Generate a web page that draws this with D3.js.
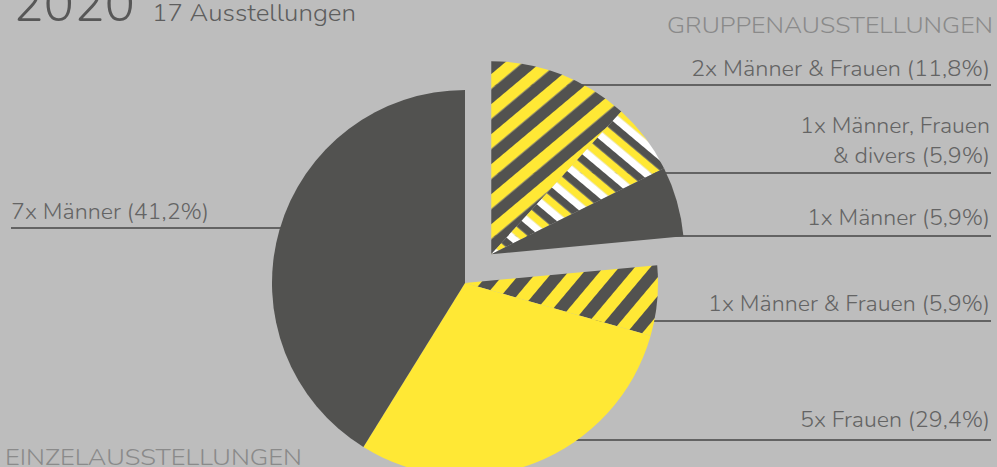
<!DOCTYPE html>
<html><head><meta charset="utf-8">
<script src="https://cdn.jsdelivr.net/npm/d3@7"></script>
<style>
html,body{margin:0;padding:0;background:#bdbdbd;}
svg{display:block;}
text{font-family:Nunito, Lato, "Open Sans", sans-serif;font-weight:300;}
</style></head>
<body><svg id="c" width="997" height="467"></svg>
<script>
// ---- data ----
const categories = ["2x Männer & Frauen", "1x Männer, Frauen & divers", "1x Männer", "1x Männer & Frauen", "5x Frauen", "7x Männer"];
const counts = [2, 1, 1, 1, 5, 7];
const percents = ["11,8%", "5,9%", "5,9%", "5,9%", "29,4%", "41,2%"];
const groupType = ["gruppe", "gruppe", "gruppe", "einzel", "einzel", "einzel"];
const labelLines = [
  ["2x Männer & Frauen (11,8%)"],
  ["1x Männer, Frauen", "& divers (5,9%)"],
  ["1x Männer (5,9%)"],
  ["1x Männer & Frauen (5,9%)"],
  ["5x Frauen (29,4%)"],
  ["7x Männer (41,2%)"]
];
const title = "2020";
const subtitle = "17 Ausstellungen";
const groupTitles = ["GRUPPENAUSSTELLUNGEN", "EINZELAUSSTELLUNGEN"];

// ---- layout / style ----
const W = 997, H = 467;
const cx = 465, cy = 283, R = 193, explode = 39;
const DARK = "#525250", YEL = "#ffe835", WHITE = "#ffffff";
const fills = ["url(#pA)", "url(#pB)", DARK, "url(#pC)", YEL, DARK];
const labelLayout = [
  {ys:[76], rule:85, side:"r", widths:[299]},
  {ys:[133,163], rule:173, side:"r", widths:[190,157]},
  {ys:[225], rule:236, side:"r", widths:[183]},
  {ys:[311], rule:321, side:"r", widths:[282]},
  {ys:[427], rule:440, side:"r", widths:[190]},
  {ys:[219], rule:228, side:"l", widths:[198]}
];

const svg = d3.select("#c");
svg.append("rect").attr("width", W).attr("height", H).attr("fill", "#bdbdbd");

// patterns
const defs = svg.append("defs");
function stripes(id, colors, w, angle) {
  const p = defs.append("pattern").attr("id", id).attr("patternUnits", "userSpaceOnUse")
    .attr("width", w * colors.length).attr("height", 20)
    .attr("patternTransform", `rotate(${angle})`);
  colors.forEach((c, i) => p.append("rect").attr("x", i * w).attr("y", 0).attr("width", w).attr("height", 20).attr("fill", c));
}
stripes("pA", [YEL, DARK], 11.5, 50);
stripes("pB", [WHITE, YEL, DARK], 7.5, -50);
stripes("pC", [YEL, DARK], 12, 40);

const pie = d3.pie().sort(null).value(d => d)(counts);
const arc = d3.arc().innerRadius(0).outerRadius(R);

const gArcs = pie.filter((d, i) => groupType[i] === "gruppe");
const gMid = (gArcs[0].startAngle + gArcs[gArcs.length - 1].endAngle) / 2;
const gx = cx + explode * Math.sin(gMid), gy = cy - explode * Math.cos(gMid);

// rules (drawn under the pie)
const ruleColor = "#636363";
labelLayout.forEach((L, i) => {
  const ox = groupType[i] === "gruppe" ? gx + 2 : cx;
  const x1 = L.side === "r" ? ox : 11;
  const x2 = L.side === "r" ? 991 : cx;
  svg.append("line").attr("x1", x1).attr("x2", x2).attr("y1", L.rule).attr("y2", L.rule)
    .attr("stroke", ruleColor).attr("stroke-width", 2);
});

// slices
svg.append("g").selectAll("path").data(pie).join("path")
  .attr("transform", (d, i) => groupType[i] === "gruppe" ? `translate(${gx},${gy})` : `translate(${cx},${cy})`)
  .attr("d", arc)
  .attr("fill", (d, i) => fills[i]);

// labels
const txtColor = "#646464";
labelLayout.forEach((L, i) => {
  labelLines[i].forEach((t, j) => {
    svg.append("text")
      .attr("x", L.side === "r" ? 990 : 11)
      .attr("y", L.ys[j])
      .attr("text-anchor", L.side === "r" ? "end" : "start")
      .attr("font-size", 21)
      .attr("fill", txtColor)
      .attr("textLength", L.widths[j])
      .attr("lengthAdjust", "spacingAndGlyphs")
      .text(t);
  });
});

// headings
svg.append("text").attr("x", 13).attr("y", 21).attr("font-size", 50).attr("fill", "#575757")
  .attr("textLength", 122).attr("lengthAdjust", "spacingAndGlyphs").text(title);
svg.append("text").attr("x", 152).attr("y", 21).attr("font-size", 24).attr("fill", "#5e5e5e")
  .attr("textLength", 204).attr("lengthAdjust", "spacingAndGlyphs").text(subtitle);
svg.append("text").attr("x", 993).attr("y", 33).attr("text-anchor", "end").attr("font-size", 22)
  .attr("fill", "#8a8a8a").attr("textLength", 326).attr("lengthAdjust", "spacingAndGlyphs").text(groupTitles[0]);
svg.append("text").attr("x", 5).attr("y", 465).attr("font-size", 22)
  .attr("fill", "#8a8a8a").attr("textLength", 297).attr("lengthAdjust", "spacingAndGlyphs").text(groupTitles[1]);
</script></body></html>
